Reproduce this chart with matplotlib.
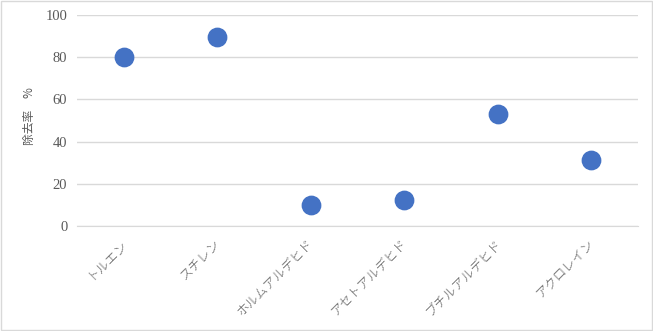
import matplotlib.pyplot as plt
import matplotlib.transforms as mtransforms
from matplotlib.patches import Rectangle

# data
compounds = ["トルエン", "スチレン", "ホルムアルデヒド", "アセトアルデヒド", "ブチルアルデヒド", "アクロレイン"]
removal = [80, 89.5, 10, 12.3, 53.3, 31.2]
yticks = [0, 20, 40, 60, 80, 100]

plt.rcParams['font.family'] = ['Noto Sans CJK JP', 'DejaVu Sans']

fig = plt.figure(figsize=(6.53, 3.31), dpi=100)
ax = fig.add_axes([0.118, 0.317, 0.859, 0.638])

ax.scatter(range(len(compounds)), removal, s=175, color="#4472C4", zorder=3)

ax.set_xlim(-0.5, len(compounds) - 0.5)
ax.set_ylim(0, 100)
ax.set_yticks(yticks)
ax.set_yticklabels([str(v) for v in yticks], family="Liberation Serif",
                   fontsize=10.5, color="#595959")
ax.set_xticks(range(len(compounds)))
ax.set_xticklabels(compounds, rotation=45, ha="right", rotation_mode="anchor",
                   fontsize=9.2, color="#595959", fontweight="light")
ax.tick_params(axis="y", length=0, pad=7)
ax.tick_params(axis="x", length=0, pad=8)
# nudge the slanted labels a little to the left
shift = mtransforms.ScaledTranslation(-3 / 100, 0, fig.dpi_scale_trans)
for lab in ax.get_xticklabels():
    lab.set_transform(lab.get_transform() + shift)

ax.grid(axis="y", color="#d9d9d9", linewidth=1)
for sp in ax.spines.values():
    sp.set_visible(False)
ax.spines["bottom"].set_visible(True)
ax.spines["bottom"].set_color("#d9d9d9")

ax.set_ylabel("除去率　%", fontsize=8.5, color="#595959")
ax.yaxis.set_label_coords(-0.073, 0.52)

# light border around the whole chart
fig.patches.append(Rectangle((0.001, 0.002), 0.997, 0.995, transform=fig.transFigure,
                             fill=False, edgecolor="#d9d9d9", linewidth=1))

fig.savefig("out.png", dpi=100)
